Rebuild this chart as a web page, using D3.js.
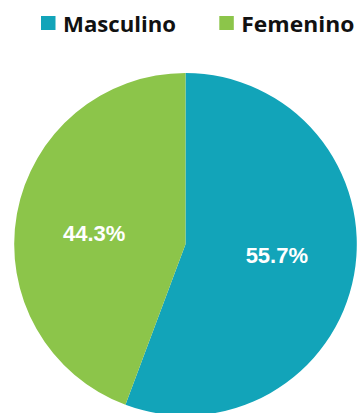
<!DOCTYPE html>
<html><head><meta charset="utf-8">
<script src="https://cdn.jsdelivr.net/npm/d3@7"></script>
<style>html,body{margin:0;padding:0;background:#fff;overflow:hidden}</style>
</head><body>
<svg id="chart" width="358" height="413"></svg>
<script>
const categories = ["Masculino", "Femenino"];
const values = [55.7, 44.3];
const colors = ["#12a4b9", "#8cc54a"];

const svg = d3.select("#chart");
const cx = 185.5, cy = 244.3, r = 171.3;

const color = d3.scaleOrdinal().domain(categories).range(colors);
const pie = d3.pie().sort(null).value(d => d.value);
const data = categories.map((c, i) => ({cat: c, value: values[i]}));
const arcs = pie(data);
const arc = d3.arc().innerRadius(0).outerRadius(r);

const g = svg.append("g").attr("transform", `translate(${cx},${cy})`);
g.selectAll("path").data(arcs).join("path")
  .attr("d", arc).attr("fill", d => color(d.data.cat));

const labelR = r * 0.537, labelShift = -0.058;
g.selectAll("text").data(arcs).join("text")
  .attr("transform", d => {
    const a = (d.startAngle + d.endAngle) / 2 + labelShift;
    return `translate(${labelR * Math.sin(a)},${-labelR * Math.cos(a)})`;
  })
  .attr("text-anchor", "middle").attr("dy", "0.358em")
  .attr("fill", "#fff").attr("font-family", "Liberation Sans, Arial, sans-serif")
  .attr("font-weight", "bold").attr("font-size", 22)
  .text(d => d.data.value.toFixed(1) + "%");

// legend
const legendX = [41, 219.3];
const lg = svg.append("g");
categories.forEach((c, i) => {
  lg.append("rect").attr("x", legendX[i]).attr("y", 16).attr("width", 14.5).attr("height", 14).attr("fill", color(c));
  lg.append("text").attr("x", legendX[i] + 22).attr("y", 31.5)
    .attr("font-family", "Open Sans, sans-serif").attr("font-weight", "bold").attr("font-size", 22)
    .attr("textLength", 113).attr("lengthAdjust", "spacingAndGlyphs")
    .attr("fill", "#111").text(c);
});
</script>
</body></html>
